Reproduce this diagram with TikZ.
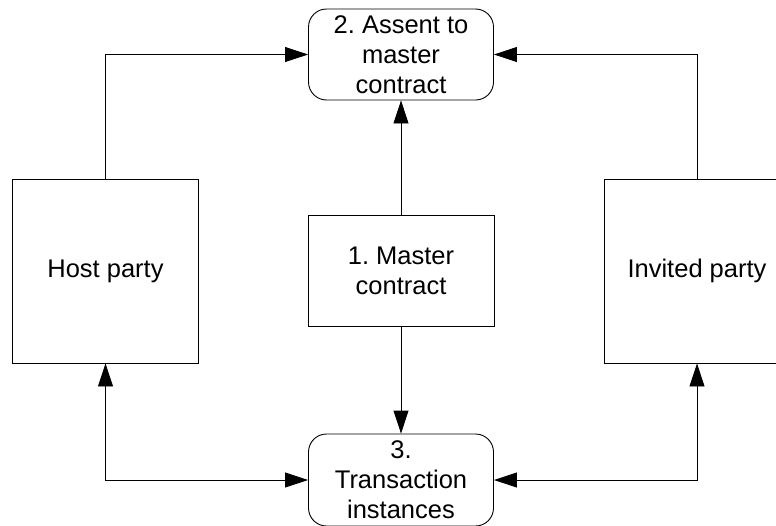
\documentclass[tikz,border=0pt]{standalone}
\usepackage{fontspec}
\setmainfont{Liberation Sans}
\usetikzlibrary{arrows.meta}
\frenchspacing
\begin{document}
\begin{tikzpicture}[x=1pt,y=-1pt,
  box/.style={draw, line width=0.9pt, inner sep=0pt, align=center,
    font=\fontsize{25.5}{30}\selectfont},
  party/.style={box, minimum width=185.5pt, minimum height=184pt},
  stage/.style={box, rounded corners=18pt, minimum width=185pt, minimum height=91pt},
  arr/.style={line width=0.9pt, -{Triangle[length=23pt,width=15pt]}},
  darr/.style={line width=0.9pt, {Triangle[length=23pt,width=15pt]}-{Triangle[length=23pt,width=15pt]}}]
\useasboundingbox[clip] (0,0) rectangle (776,525);
\node[party] (host) at (105.5,271) {Host party};
\node[party] (invited) at (697,271) {Invited party};
\node[box, minimum width=186pt, minimum height=111pt] (master) at (401,270.5) {1. Master\\contract};
\node[stage] (assent) at (401,54.5) {2. Assent to\\master\\contract};
\node[stage, minimum height=92pt] (trans) at (401,480) {3.\\Transaction\\instances};
\draw[arr] (host.north) |- (assent.west);
\draw[arr] (invited.north) |- (assent.east);
\draw[arr] (master.north) -- (assent.south);
\draw[arr] (master.south) -- (trans.north);
\draw[darr] (host.south) |- (trans.west);
\draw[darr] (invited.south) |- (trans.east);
\end{tikzpicture}
\end{document}
